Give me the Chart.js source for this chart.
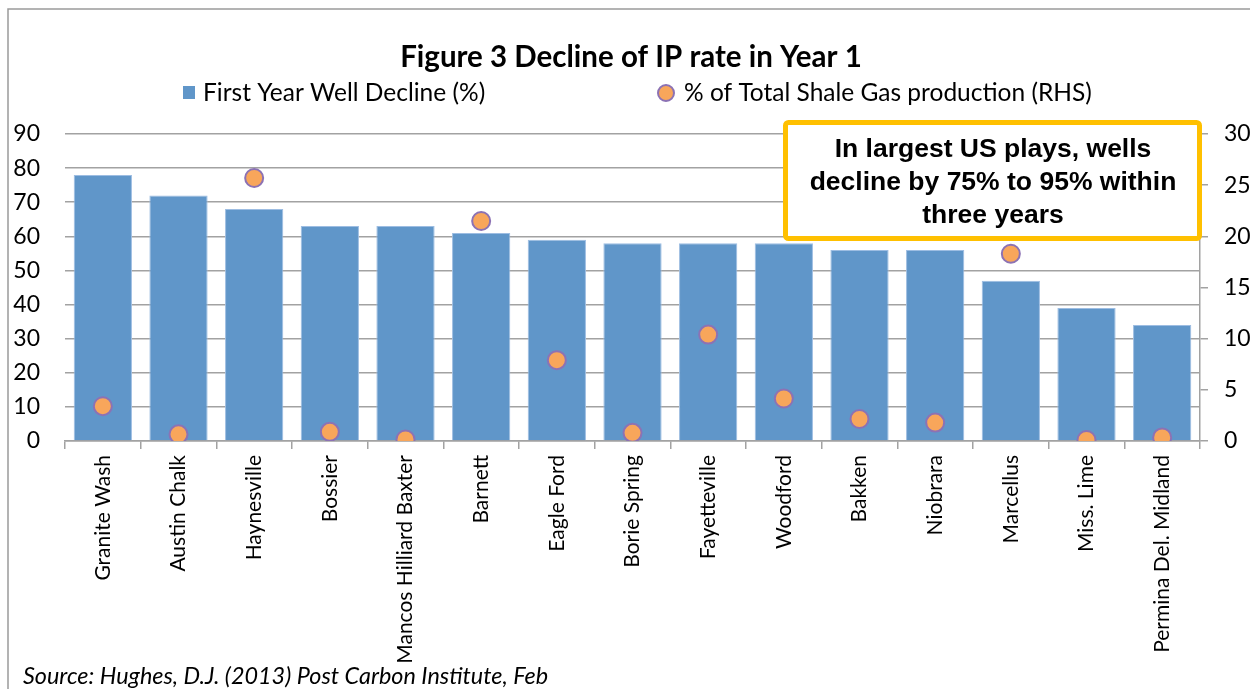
<!DOCTYPE html>
<html>
<head>
<meta charset="utf-8">
<script src="https://cdn.jsdelivr.net/npm/chart.js@4.4.1/dist/chart.umd.min.js"></script>
<style>
  html, body { margin: 0; padding: 0; background: #fff; }
  #wrap { width: 1250px; height: 689px; position: relative; }
</style>
</head>
<body>
<div id="wrap"><canvas id="declineChart"></canvas></div>
<script>
const plays = ['Granite Wash', 'Austin Chalk', 'Haynesville', 'Bossier', 'Mancos Hilliard Baxter', 'Barnett',
    'Eagle Ford', 'Borie Spring', 'Fayetteville', 'Woodford', 'Bakken', 'Niobrara', 'Marcellus', 'Miss. Lime',
    'Permina Del. Midland'];
const firstYearDecline = [78, 72, 68, 63, 63, 61, 59, 58, 58, 58, 56, 56, 47, 39, 34];
const shareOfShaleGas = [3.4, 0.65, 25.7, 0.9, 0.15, 21.5, 7.9, 0.8, 10.4, 4.15, 2.15, 1.8, 18.3, 0.1, 0.35];
const leftTicks = [0, 10, 20, 30, 40, 50, 60, 70, 80, 90];
const rightTicks = [0, 5, 10, 15, 20, 25, 30];

const titleText = 'Figure 3 Decline of IP rate in Year 1';
const barLabel = 'First Year Well Decline (%)';
const dotLabel = '% of Total Shale Gas production (RHS)';
const noteLines = ['In largest US plays, wells', 'decline by 75% to 95% within', 'three years'];
const sourceText = 'Source: Hughes, D.J. (2013) Post Carbon Institute, Feb';

const barBlue = '#6096C9';
const dotOrange = '#F8A65B';
const dotPurple = '#8C72B4';
const gridGrey = '#a2a2a2';

Chart.defaults.font.family = 'Lato';
Chart.defaults.color = '#000';

const extras = {
    id: 'extras',
    afterDraw(chart) {
        const ctx = chart.ctx;
        ctx.save();

        // outer frame of the figure
        ctx.strokeStyle = '#9a9a9a';
        ctx.lineWidth = 1.5;
        ctx.beginPath();
        ctx.moveTo(8, 700);
        ctx.lineTo(8, 9);
        ctx.lineTo(1260, 9);
        ctx.stroke();

        ctx.fillStyle = '#000';
        ctx.textBaseline = 'alphabetic';
        ctx.font = 'bold 29.5px Lato';
        ctx.textAlign = 'center';
        ctx.fillText(titleText, 631, 67);

        // legend
        ctx.font = '24.5px Lato';
        ctx.textAlign = 'left';
        ctx.fillStyle = barBlue;
        ctx.fillRect(183, 86, 12, 13);
        ctx.fillStyle = '#000';
        ctx.fillText(barLabel, 203, 101);

        ctx.beginPath();
        ctx.arc(666, 93, 8, 0, Math.PI * 2);
        ctx.fillStyle = dotOrange;
        ctx.fill();
        ctx.lineWidth = 2;
        ctx.strokeStyle = dotPurple;
        ctx.stroke();
        ctx.fillStyle = '#000';
        ctx.fillText(dotLabel, 684, 101);

        // callout box
        ctx.beginPath();
        ctx.roundRect(785.5, 122.5, 414, 116, 3);
        ctx.fillStyle = '#fff';
        ctx.fill();
        ctx.lineWidth = 5;
        ctx.strokeStyle = '#FFC000';
        ctx.stroke();
        ctx.fillStyle = '#000';
        ctx.textAlign = 'center';
        ctx.font = 'bold 26.5px "Liberation Sans"';
        noteLines.forEach((line, i) => ctx.fillText(line, 993, 157 + i * 33));

        ctx.textAlign = 'left';
        ctx.font = 'italic 23.4px Lato';
        ctx.fillText(sourceText, 23, 684);

        ctx.restore();
    },
};

new Chart(document.getElementById('declineChart'), {
    type: 'bar',
    data: {
        labels: plays,
        datasets: [
            {
                type: 'line',
                label: dotLabel,
                data: shareOfShaleGas,
                yAxisID: 'y1',
                showLine: false,
                pointRadius: 9,
                pointBorderWidth: 2,
                pointBackgroundColor: dotOrange,
                pointBorderColor: dotPurple,
                order: 1,
            },
            {
                label: barLabel,
                data: firstYearDecline,
                yAxisID: 'y',
                backgroundColor: barBlue,
                borderColor: '#9dbde2',
                borderWidth: 1,
                barPercentage: 0.77,
                categoryPercentage: 1.0,
                order: 2,
            },
        ],
    },
    options: {
        responsive: true,
        maintainAspectRatio: false,
        animation: false,
        layout: { padding: { top: 134, left: 0, right: 0, bottom: 0 } },
        plugins: { legend: { display: false }, tooltip: { enabled: false } },
        scales: {
            x: {
                grid: { offset: true, drawOnChartArea: false, color: gridGrey, lineWidth: 1.5, tickLength: 8 },
                border: { color: gridGrey, width: 1.5 },
                ticks: { autoSkip: false, minRotation: 90, maxRotation: 90, padding: 6, font: { size: 21 } },
                afterFit(scale) { scale.height = 248; },
            },
            y: {
                position: 'left',
                min: 0,
                max: 90,
                grid: { color: gridGrey, lineWidth: 1.5, drawTicks: false },
                border: { display: false },
                ticks: { padding: 25, font: { size: 23 } },
                afterBuildTicks(scale) { scale.ticks = leftTicks.map(v => ({ value: v })); },
                afterFit(scale) { scale.width = 65; },
            },
            y1: {
                position: 'right',
                min: 0,
                max: 30,
                grid: { drawOnChartArea: false, color: gridGrey, lineWidth: 1.5, tickLength: 8 },
                border: { color: gridGrey, width: 1.5 },
                ticks: { padding: 16, font: { size: 23 } },
                afterBuildTicks(scale) { scale.ticks = rightTicks.map(v => ({ value: v })); },
                afterFit(scale) { scale.width = 50; },
            },
        },
    },
    plugins: [extras],
});
</script>
</body>
</html>
